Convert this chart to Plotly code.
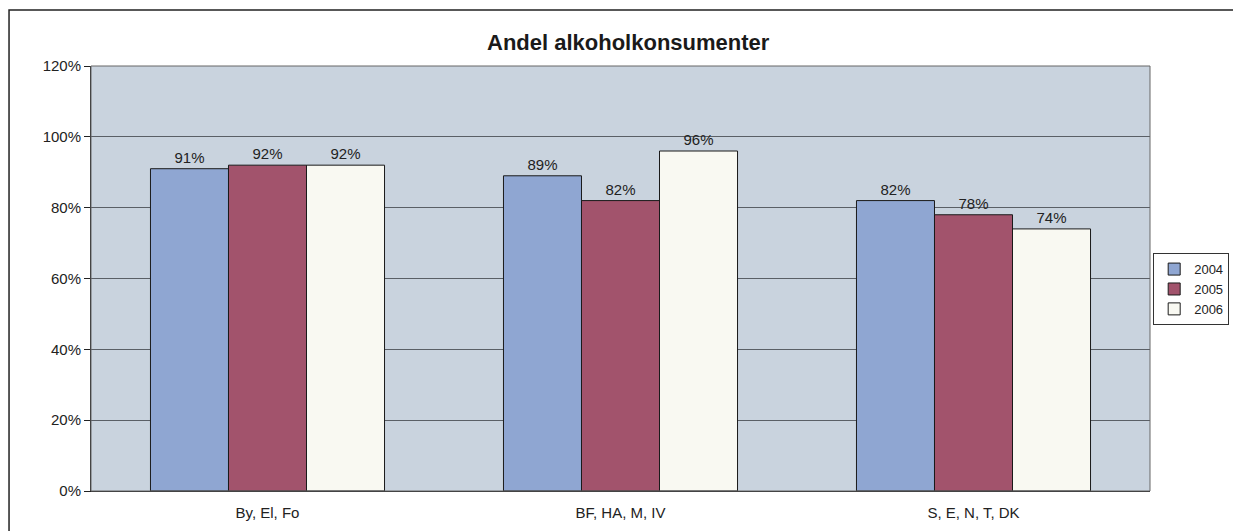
import plotly.graph_objects as go

categories = ["By, El, Fo", "BF, HA, M, IV", "S, E, N, T, DK"]
years = ["2004", "2005", "2006"]
v2004 = [0.91, 0.89, 0.82]
v2005 = [0.92, 0.82, 0.78]
v2006 = [0.92, 0.96, 0.74]
colors = ["#8fa6d2", "#a2536c", "#f9f9f2"]

fig = go.Figure()
for name, vals, col in zip(years, [v2004, v2005, v2006], colors):
    fig.add_trace(go.Bar(
        x=categories, y=vals, name=name,
        marker=dict(color=col, line=dict(color="#1a1a1a", width=1)),
        text=[f"{round(v*100)}%" for v in vals],
        textposition="outside",
        textfont=dict(family="Arial, Liberation Sans", size=15, color="#222"),
        cliponaxis=False,
    ))

fig.update_layout(
    width=1233, height=523,
    margin=dict(l=83, r=91, t=58, b=40, autoexpand=False),
    paper_bgcolor="white",
    plot_bgcolor="#c9d3de",
    barmode="group",
    bargap=0.337, bargroupgap=0,
    title=dict(text="<b>Andel alkoholkonsumenter</b>", x=0.503, xanchor="center",
               y=0.935, yanchor="middle",
               font=dict(family="Arial, Liberation Sans", size=22, color="#1a1a1a")),
    font=dict(family="Arial, Liberation Sans", size=15, color="#222"),
    legend=dict(x=1.003, xanchor="left", y=0.475, yanchor="middle",
                bordercolor="#333", borderwidth=1, bgcolor="white",
                font=dict(size=13), itemwidth=30, tracegroupgap=0),
    showlegend=True,
)
fig.update_yaxes(range=[0, 1.2], dtick=0.2, tickformat=".0%",
                 showgrid=True, gridcolor="#5a5f66", gridwidth=1,
                 showline=True, linecolor="#222", linewidth=1,
                 ticks="outside", ticklen=6, tickcolor="#222", zeroline=False)
fig.update_xaxes(showline=True, linecolor="#222", linewidth=1,
                 ticks="outside", ticklen=8, tickcolor="rgba(0,0,0,0)",
                 mirror=False)
# plot area top/right border
fig.add_shape(type="rect", xref="paper", yref="paper", x0=0, x1=1, y0=0, y1=1,
              line=dict(color="#666", width=1), layer="above")
# outer frame
fig.add_shape(type="rect", xref="paper", yref="paper", x0=-0.0774, x1=1.0812,
              y0=-0.2, y1=1.132, line=dict(color="#222", width=1.5))

fig.write_html("out.html")
